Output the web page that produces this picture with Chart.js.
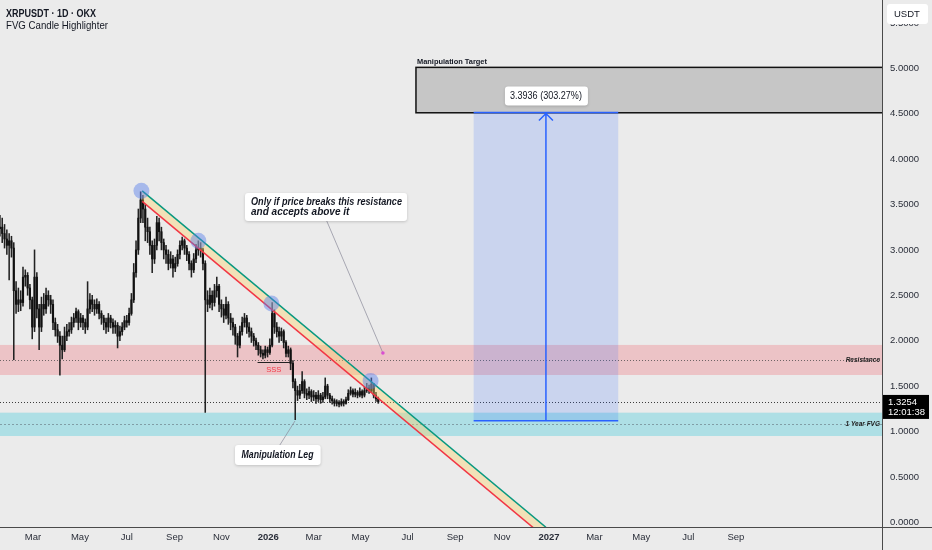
<!DOCTYPE html>
<html>
<head>
<meta charset="utf-8">
<title>XRPUSDT · 1D · OKX</title>
<script src="https://cdn.jsdelivr.net/npm/chart.js@4.4.1/dist/chart.umd.min.js"></script>
<style>
  html, body { margin: 0; padding: 0; background: #ebebeb; }
  #wrap { width: 932px; height: 550px; }
</style>
</head>
<body>
<div id="wrap"><canvas id="chart" width="932" height="550"></canvas></div>
<script>
// days are counted from 1 Jan 2025 (day 0)
const firstCandleDay = 16;
const candleStep = 3;

// one candle per 3 days; open = previous close
const closes = [
  3.25, 3.18, 3.12, 3.05, 3.10, 3.02, 2.55, 2.40, 2.45, 2.42,
  2.70, 2.72, 2.58, 2.45, 2.15, 2.70, 2.35, 2.15, 2.40, 2.35,
  2.50, 2.45, 2.40, 2.20, 2.12, 2.05, 1.95, 1.90, 2.05, 2.10,
  2.12, 2.20, 2.25, 2.32, 2.20, 2.25, 2.20, 2.15, 2.35, 2.45,
  2.40, 2.35, 2.40, 2.30, 2.25, 2.20, 2.15, 2.25, 2.20, 2.15,
  2.17, 2.05, 2.10, 2.15, 2.22, 2.20, 2.30, 2.45, 2.75, 3.00,
  3.35, 3.55, 3.45, 3.25, 3.20, 3.05, 2.90, 3.05, 3.30, 3.20,
  3.08, 3.00, 2.95, 2.85, 2.90, 2.80, 2.85, 2.95, 3.05, 3.10,
  3.02, 2.95, 2.85, 2.78, 2.90, 3.00, 3.02, 3.00, 2.85, 2.45,
  2.40, 2.50, 2.42, 2.55, 2.60, 2.40, 2.35, 2.28, 2.40, 2.25,
  2.20, 2.15, 2.05, 1.95, 2.10, 2.20, 2.25, 2.15, 2.10, 2.05,
  2.00, 1.95, 1.90, 1.86, 1.84, 1.90, 1.87, 1.95, 2.30, 2.15,
  2.10, 2.05, 2.10, 1.98, 1.86, 1.90, 1.75, 1.55, 1.45, 1.40,
  1.45, 1.55, 1.42, 1.40, 1.44, 1.38, 1.40, 1.36, 1.40, 1.35,
  1.38, 1.50, 1.40, 1.36, 1.34, 1.31, 1.32, 1.30, 1.33, 1.31,
  1.35, 1.42, 1.45, 1.41, 1.43, 1.40, 1.44, 1.40, 1.45, 1.48,
  1.45, 1.52, 1.40, 1.36, 1.3254
];
const highs = [
  3.38, 3.35, 3.28, 3.22, 3.18, 3.15, 3.08, 2.65, 2.58, 2.55,
  2.81, 2.78, 2.75, 2.62, 2.48, 3.00, 2.75, 2.40, 2.48, 2.52,
  2.58, 2.55, 2.50, 2.45, 2.25, 2.18, 2.10, 2.05, 2.15, 2.18,
  2.20, 2.26, 2.30, 2.36, 2.34, 2.30, 2.28, 2.24, 2.65, 2.52,
  2.50, 2.45, 2.46, 2.43, 2.33, 2.28, 2.25, 2.30, 2.28, 2.24,
  2.22, 2.20, 2.16, 2.20, 2.27, 2.28, 2.36, 2.52, 2.85, 3.10,
  3.45, 3.64, 3.60, 3.50, 3.35, 3.25, 3.10, 3.12, 3.37, 3.35,
  3.25, 3.12, 3.05, 3.00, 2.98, 2.94, 2.92, 3.00, 3.10, 3.14,
  3.12, 3.05, 2.98, 2.88, 2.96, 3.06, 3.10, 3.08, 3.02, 2.88,
  2.55, 2.58, 2.55, 2.62, 2.70, 2.62, 2.45, 2.40, 2.48, 2.43,
  2.30, 2.25, 2.18, 2.08, 2.16, 2.26, 2.30, 2.28, 2.20, 2.14,
  2.08, 2.03, 1.98, 1.94, 1.90, 1.94, 1.93, 2.02, 2.42, 2.34,
  2.20, 2.15, 2.14, 2.12, 2.00, 1.94, 1.92, 1.78, 1.58, 1.50,
  1.52, 1.66, 1.57, 1.47, 1.49, 1.46, 1.45, 1.43, 1.45, 1.42,
  1.43, 1.59, 1.52, 1.42, 1.39, 1.36, 1.35, 1.34, 1.36, 1.35,
  1.38, 1.46, 1.49, 1.47, 1.47, 1.45, 1.48, 1.46, 1.49, 1.53,
  1.51, 1.59, 1.53, 1.43, 1.38
];
const lows = [
  3.15, 3.08, 3.02, 2.95, 2.67, 2.92, 1.79, 2.30, 2.32, 2.33,
  2.38, 2.60, 2.50, 2.35, 2.02, 2.10, 2.25, 1.90, 2.10, 2.28,
  2.30, 2.38, 2.30, 2.12, 2.05, 1.98, 1.62, 1.80, 1.88, 2.00,
  2.05, 2.08, 2.15, 2.20, 2.12, 2.15, 2.12, 2.08, 2.12, 2.30,
  2.32, 2.28, 2.30, 2.24, 2.18, 2.12, 2.08, 2.10, 2.14, 2.08,
  2.08, 1.92, 2.00, 2.06, 2.12, 2.15, 2.17, 2.28, 2.42, 2.70,
  2.95, 3.30, 3.30, 3.10, 3.08, 2.95, 2.75, 2.85, 3.00, 3.10,
  3.00, 2.90, 2.85, 2.78, 2.80, 2.70, 2.76, 2.82, 2.90, 3.00,
  2.95, 2.88, 2.78, 2.70, 2.75, 2.86, 2.94, 2.92, 2.78, 1.21,
  2.32, 2.36, 2.34, 2.38, 2.48, 2.32, 2.26, 2.20, 2.24, 2.18,
  2.12, 2.06, 1.96, 1.82, 1.92, 2.06, 2.15, 2.08, 2.04, 1.98,
  1.94, 1.90, 1.84, 1.82, 1.80, 1.81, 1.82, 1.85, 1.93, 2.08,
  2.04, 1.98, 2.00, 1.92, 1.82, 1.82, 1.68, 1.48, 1.13, 1.34,
  1.36, 1.42, 1.37, 1.35, 1.36, 1.33, 1.34, 1.31, 1.33, 1.31,
  1.32, 1.36, 1.36, 1.32, 1.30, 1.28, 1.28, 1.27, 1.28, 1.28,
  1.30, 1.34, 1.40, 1.38, 1.38, 1.37, 1.38, 1.37, 1.38, 1.43,
  1.42, 1.43, 1.37, 1.33, 1.31
];

// time axis
const tickDays = [59, 120, 181, 243, 304, 365, 424, 485, 546, 608, 669, 730, 789, 850, 911, 973];
const tickLabels = ["Mar", "May", "Jul", "Sep", "Nov", "2026", "Mar", "May", "Jul", "Sep", "Nov", "2027", "Mar", "May", "Jul", "Sep"];
// price axis
const priceTicks = [0, 0.5, 1.0, 1.5, 2.0, 2.5, 3.0, 3.5, 4.0, 4.5, 5.0, 5.5];

// drawings
const trendDays = [201, 726];
const upperTrend = [3.65, -0.055];
const lowerTrend = [3.535, -0.176];
const touchDays = [200, 274, 369, 498];
const touchPrices = [3.65, 3.10, 2.41, 1.556];
const resistanceZone = [1.622, 1.953];
const fvgZone = [0.950, 1.207];
const sssLevel = 1.769;
const lastPrice = 1.3254;
const targetBase = 1.119;
const targetMove = 3.3936;
const targetZone = [4.51, 5.01];

const FONT = "'Liberation Sans', Arial, sans-serif";

const bodies = closes.map((c, i) => ({
  x: firstCandleDay + i * candleStep,
  y: [i ? closes[i - 1] : c, c]
}));
const wicks = closes.map((c, i) => ({
  x: firstCandleDay + i * candleStep,
  y: [lows[i], highs[i]]
}));

function roundBox(ctx, x, y, w, h, r, fill, shadow) {
  ctx.save();
  if (shadow) {
    ctx.shadowColor = "rgba(0,0,0,0.18)";
    ctx.shadowBlur = 3;
    ctx.shadowOffsetY = 1;
  }
  ctx.fillStyle = fill;
  ctx.beginPath();
  ctx.roundRect(x, y, w, h, r);
  ctx.fill();
  ctx.restore();
}

const drawings = {
  id: "drawings",
  beforeDraw(chart) {
    const { ctx, width, height } = chart;
    ctx.save();
    ctx.fillStyle = "#ebebeb";
    ctx.fillRect(0, 0, width, height);
    ctx.restore();
  },
  beforeDatasetsDraw(chart) {
    const { ctx, chartArea: a, scales: { x, y } } = chart;
    ctx.save();
    ctx.beginPath();
    ctx.rect(a.left, a.top, a.right - a.left, a.bottom - a.top);
    ctx.clip();

    const band = (zone, color) => {
      const top = y.getPixelForValue(zone[1]);
      const bot = y.getPixelForValue(zone[0]);
      ctx.fillStyle = color;
      ctx.fillRect(a.left, top, a.right - a.left, bot - top);
    };
    const hline = (v, color, dash, x0, x1, w) => {
      const py = Math.round(y.getPixelForValue(v)) + 0.5;
      ctx.strokeStyle = color;
      ctx.lineWidth = w || 1;
      ctx.setLineDash(dash);
      ctx.beginPath();
      ctx.moveTo(x0 === undefined ? a.left : x0, py);
      ctx.lineTo(x1 === undefined ? a.right : x1, py);
      ctx.stroke();
      ctx.setLineDash([]);
    };

    band(resistanceZone, "rgba(242,54,69,0.22)");
    band(fvgZone, "rgba(0,188,212,0.26)");
    hline((resistanceZone[0] + resistanceZone[1]) / 2, "rgba(70,70,70,0.75)", [1, 2]);
    hline((fvgZone[0] + fvgZone[1]) / 2, "rgba(110,130,140,0.7)", [2, 2]);
    hline(lastPrice, "#3c3c3c", [1, 2]);

    // manipulation target box
    const gx0 = x.getPixelForValue(557);
    const gTop = y.getPixelForValue(targetZone[1]);
    const gBot = y.getPixelForValue(targetZone[0]);
    ctx.fillStyle = "#c6c6c6";
    ctx.fillRect(gx0, gTop, a.right - gx0, gBot - gTop);
    ctx.strokeStyle = "#111";
    ctx.lineWidth = 1.5;
    ctx.strokeRect(gx0, gTop, a.right - gx0 + 2, gBot - gTop);

    // projection box
    const bx0 = x.getPixelForValue(632);
    const bx1 = x.getPixelForValue(820);
    const bxc = x.getPixelForValue(726);
    const bTop = y.getPixelForValue(targetBase + targetMove);
    const bBot = y.getPixelForValue(targetBase);
    ctx.fillStyle = "rgba(41,98,255,0.17)";
    ctx.fillRect(bx0, bTop, bx1 - bx0, bBot - bTop);
    ctx.strokeStyle = "#2962ff";
    ctx.lineWidth = 1.5;
    ctx.beginPath();
    ctx.moveTo(bx0, bBot); ctx.lineTo(bx1, bBot);
    ctx.moveTo(bx0, bTop); ctx.lineTo(bx1, bTop);
    ctx.moveTo(bxc, bBot); ctx.lineTo(bxc, bTop + 1);
    ctx.moveTo(bxc - 7, bTop + 8); ctx.lineTo(bxc, bTop + 1); ctx.lineTo(bxc + 7, bTop + 8);
    ctx.stroke();

    // sell-side liquidity line
    hline(sssLevel, "#222", [], x.getPixelForValue(351), x.getPixelForValue(393), 1.2);
    ctx.restore();
  },
  afterDatasetsDraw(chart) {
    const { ctx, chartArea: a, scales: { x, y } } = chart;
    const X = d => x.getPixelForValue(d);
    const Y = v => y.getPixelForValue(v);
    ctx.save();
    ctx.textBaseline = "middle";

    // SSS
    ctx.fillStyle = "#f23645";
    ctx.font = "7.5px " + FONT;
    ctx.textAlign = "center";
    ctx.fillText("SSS", X(372), Y(sssLevel) + 8);

    // zone labels
    ctx.fillStyle = "#222";
    ctx.textAlign = "right";
    ctx.font = "italic bold 6.5px " + FONT;
    ctx.fillText("Resistance", a.right - 2, Y((resistanceZone[0] + resistanceZone[1]) / 2));
    ctx.fillText("1 Year FVG", a.right - 2, Y((fvgZone[0] + fvgZone[1]) / 2));

    // target labels
    ctx.textAlign = "left";
    ctx.font = "bold 8px " + FONT;
    ctx.fillStyle = "#131722";
    ctx.fillText("Manipulation Target", X(557) + 1, Y(targetZone[1]) - 6, 70);

    const cx = X(726);
    const ly = Y(targetBase + targetMove) - 17;
    roundBox(ctx, cx - 41, ly - 9, 83, 19, 3, "#ffffff", true);
    ctx.fillStyle = "#131722";
    ctx.font = "10px " + FONT;
    ctx.textAlign = "center";
    ctx.fillText("3.3936 (303.27%)", cx, ly + 0.5, 72);

    // connectors
    ctx.strokeStyle = "rgba(140,140,155,0.9)";
    ctx.lineWidth = 0.8;
    ctx.beginPath();
    ctx.moveTo(X(441), Y(3.318)); ctx.lineTo(X(514), Y(1.865));
    ctx.moveTo(X(380), Y(0.851)); ctx.lineTo(X(399.7), Y(1.116));
    ctx.stroke();
    ctx.fillStyle = "#d94fd0";
    ctx.beginPath();
    ctx.arc(X(514), Y(1.865), 1.8, 0, Math.PI * 2);
    ctx.fill();

    // callout: breakout condition
    const n1x = X(334.7), n1y = Y(3.627);
    roundBox(ctx, n1x, n1y, X(545.4) - n1x, Y(3.318) - n1y, 3, "#ffffff", true);
    ctx.fillStyle = "#131722";
    ctx.textAlign = "left";
    ctx.font = "italic bold 10px " + FONT;
    ctx.fillText("Only if price breaks this resistance", n1x + 6, n1y + 9, 151);
    ctx.fillText("and accepts above it", n1x + 6, n1y + 19.5, 151);

    // callout: manipulation leg
    const n2x = X(321.7), n2y = Y(0.851);
    roundBox(ctx, n2x, n2y, X(433.1) - n2x, Y(0.631) - n2y, 3, "#ffffff", true);
    ctx.fillStyle = "#131722";
    ctx.font = "italic bold 10px " + FONT;
    ctx.fillText("Manipulation Leg", n2x + 6.5, n2y + 10.5, 72);
    ctx.restore();
  },
  afterDraw(chart) {
    const { ctx, width, height, chartArea: a, scales: { y } } = chart;
    ctx.save();
    // axis frame lines
    ctx.strokeStyle = "#4a4a4a";
    ctx.lineWidth = 1;
    ctx.beginPath();
    ctx.moveTo(0, Math.round(a.bottom) + 0.5); ctx.lineTo(width, Math.round(a.bottom) + 0.5);
    ctx.moveTo(Math.round(a.right) + 0.5, 0); ctx.lineTo(Math.round(a.right) + 0.5, height);
    ctx.stroke();

    // currency badge
    roundBox(ctx, a.right + 5, 4, 41, 20, 3, "#ffffff", false);
    ctx.fillStyle = "#131722";
    ctx.font = "9.5px " + FONT;
    ctx.textBaseline = "middle";
    ctx.textAlign = "left";
    ctx.fillText("USDT", a.right + 12, 14.5);

    // last price badge
    const py = y.getPixelForValue(lastPrice);
    ctx.fillStyle = "#000000";
    ctx.fillRect(a.right + 1, py - 7, 46, 24);
    ctx.fillStyle = "#ffffff";
    ctx.font = "9.5px " + FONT;
    ctx.fillText(lastPrice.toFixed(4), a.right + 6, py + 0.5);
    ctx.fillText("12:01:38", a.right + 6, py + 10.5);

    // title
    ctx.fillStyle = "#131722";
    ctx.font = "bold 11px " + FONT;
    ctx.fillText("XRPUSDT · 1D · OKX", 6, 13.5, 90);
    ctx.font = "11px " + FONT;
    ctx.fillText("FVG Candle Highlighter", 6, 26, 102);
    ctx.restore();
  }
};

new Chart(document.getElementById("chart").getContext("2d"), {
  type: "bar",
  data: {
    datasets: [
      {
        type: "line",
        data: touchDays.map((d, i) => ({ x: d, y: touchPrices[i] })),
        showLine: false,
        pointRadius: 8,
        pointBorderWidth: 0,
        pointBackgroundColor: "rgba(85,125,235,0.45)",
        order: 0
      },
      {
        type: "line",
        data: trendDays.map((d, i) => ({ x: d, y: upperTrend[i] })),
        borderColor: "#089981",
        borderWidth: 1.5,
        pointRadius: 0,
        fill: false,
        order: 1
      },
      {
        type: "line",
        data: trendDays.map((d, i) => ({ x: d, y: lowerTrend[i] })),
        borderColor: "#f23645",
        borderWidth: 1.5,
        pointRadius: 0,
        fill: { target: "-1" },
        backgroundColor: "rgba(255,210,100,0.38)",
        order: 2
      },
      {
        data: bodies,
        backgroundColor: "#111111",
        borderWidth: 0,
        barThickness: 1.5,
        minBarLength: 1.5,
        grouped: false,
        order: 3
      },
      {
        data: wicks,
        backgroundColor: "#222222",
        borderWidth: 0,
        barThickness: 0.9,
        grouped: false,
        order: 4
      }
    ]
  },
  options: {
    responsive: false,
    animation: false,
    events: [],
    layout: { padding: 0, autoPadding: false },
    plugins: {
      legend: { display: false },
      tooltip: { enabled: false }
    },
    scales: {
      x: {
        type: "linear",
        min: 16.1,
        max: 1163,
        offset: false,
        grid: { display: false, drawTicks: false },
        border: { display: false },
        afterBuildTicks: s => { s.ticks = tickDays.map(v => ({ value: v })); },
        afterFit: s => { s.height = 23; s.paddingLeft = 0; s.paddingRight = 0; },
        ticks: {
          autoSkip: false,
          maxRotation: 0,
          padding: 5,
          color: "#2a2e39",
          font: c => ({ family: FONT, size: 9.5, weight: /^\d{4}$/.test(tickLabels[c.index]) ? "bold" : "normal" }),
          callback: (v, i) => tickLabels[i]
        }
      },
      y: {
        position: "right",
        min: -0.052,
        max: 5.752,
        grid: { display: false, drawTicks: false },
        border: { display: false },
        afterBuildTicks: s => { s.ticks = priceTicks.map(v => ({ value: v })); },
        afterFit: s => { s.width = 50; s.paddingTop = 0; s.paddingBottom = 0; },
        ticks: {
          padding: 8,
          color: "#2a2e39",
          font: { family: FONT, size: 9.5 },
          callback: v => Number(v).toFixed(4)
        }
      }
    }
  },
  plugins: [drawings]
});
</script>
</body>
</html>
